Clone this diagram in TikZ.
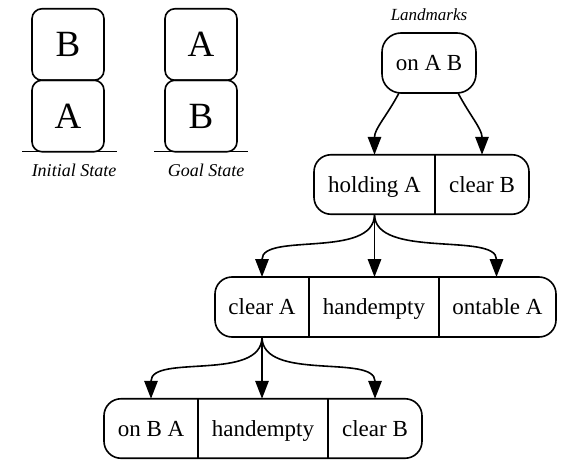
\documentclass[tikz,border=0pt]{standalone}
\usepackage{fontspec}
\setmainfont{Liberation Serif}
\usetikzlibrary{arrows.meta,positioning}
\begin{document}
\begin{tikzpicture}[x=1pt,y=-1pt,
  lw/.style={line width=1.6pt},
  block/.style={draw,lw,rounded corners=10pt,minimum width=72pt,minimum height=71.5pt,inner sep=0pt,outer sep=0pt,font=\fontsize{37}{42}\selectfont},
  field/.style={inner sep=0pt,outer sep=0pt,minimum height=59.5pt,text height=15.5pt,text depth=0pt,font=\fontsize{23}{27}\selectfont},
  frame/.style={draw,lw,rounded corners=17pt},
  divider/.style={draw,lw},
  caption/.style={font=\fontsize{18}{22}\selectfont\itshape,inner sep=0pt},
  ground/.style={draw,lw},
  edge/.style={draw,lw,-{Triangle[length=18pt,width=13.5pt]}}
]
\useasboundingbox (0,0) rectangle (581,460);

% Initial state
\node[block] (iB) at (68,44.5) {B};
\node[block] (iA) at (68,116) {A};
\coordinate (ig1) at (22,151.5);
\coordinate (ig2) at (117,151.5);
\draw[ground] (ig1) -- (ig2);
\node[caption] (icap) at (74,170) {Initial State};

% Goal state
\node[block] (gA) at (201,44.5) {A};
\node[block] (gB) at (201,116) {B};
\coordinate (gg1) at (154,151.5);
\coordinate (gg2) at (248,151.5);
\draw[ground] (gg1) -- (gg2);
\node[caption] (gcap) at (206,170) {Goal State};

% Landmarks
\node[caption,font=\fontsize{17}{20}\selectfont\itshape] (lcap) at (429,15) {Landmarks};

% on A B
\node[field,minimum width=94pt,minimum height=60pt] (onAB) at (429,63) {on A B};
\draw[frame,rounded corners=19pt] (onAB.north west) rectangle (onAB.south east);

% holding A | clear B
\node[field,minimum width=121pt] (hA) at (374.5,184.5) {holding A};
\node[field,minimum width=94pt,anchor=west] (cB1) at (hA.east) {clear B};
\draw[frame] (hA.north west) rectangle (cB1.south east);
\draw[divider] (hA.north east) -- (hA.south east);

% clear A | handempty | ontable A
\node[field,minimum width=94pt,minimum height=60pt] (cA) at (262,307) {clear A};
\node[field,minimum width=130pt,minimum height=60pt,anchor=west] (hE1) at (cA.east) {handempty};
\node[field,minimum width=117pt,minimum height=60pt,anchor=west] (oA) at (hE1.east) {ontable A};
\draw[frame] (cA.north west) rectangle (oA.south east);
\draw[divider] (cA.north east) -- (cA.south east);
\draw[divider] (hE1.north east) -- (hE1.south east);

% on B A | handempty | clear B
\node[field,minimum width=94pt] (oBA) at (151,428.5) {on B A};
\node[field,minimum width=130pt,anchor=west] (hE2) at (oBA.east) {handempty};
\node[field,minimum width=94pt,anchor=west] (cB2) at (hE2.east) {clear B};
\draw[frame] (oBA.north west) rectangle (cB2.south east);
\draw[divider] (oBA.north east) -- (oBA.south east);
\draw[divider] (hE2.north east) -- (hE2.south east);

% edges
\draw[edge] ([xshift=-30pt]onAB.south) to[out=-118,in=90] (hA.north);
\draw[edge] ([xshift=29pt]onAB.south) to[out=-62,in=90] (cB1.north);

\draw[edge] (hA.south) .. controls +(0,45) and +(0,-45) .. (cA.north);
\draw[edge] (hA.south) -- (hA.south |- hE1.north);
\draw[edge] (hA.south) .. controls +(0,45) and +(0,-45) .. ([xshift=-1pt]oA.north);

\draw[edge] (cA.south) .. controls +(0,45) and +(0,-45) .. (oBA.north);
\draw[edge] (cA.south) -- (cA.south |- hE2.north);
\draw[edge] (cA.south) .. controls +(0,45) and +(0,-45) .. (cB2.north);
\end{tikzpicture}
\end{document}
